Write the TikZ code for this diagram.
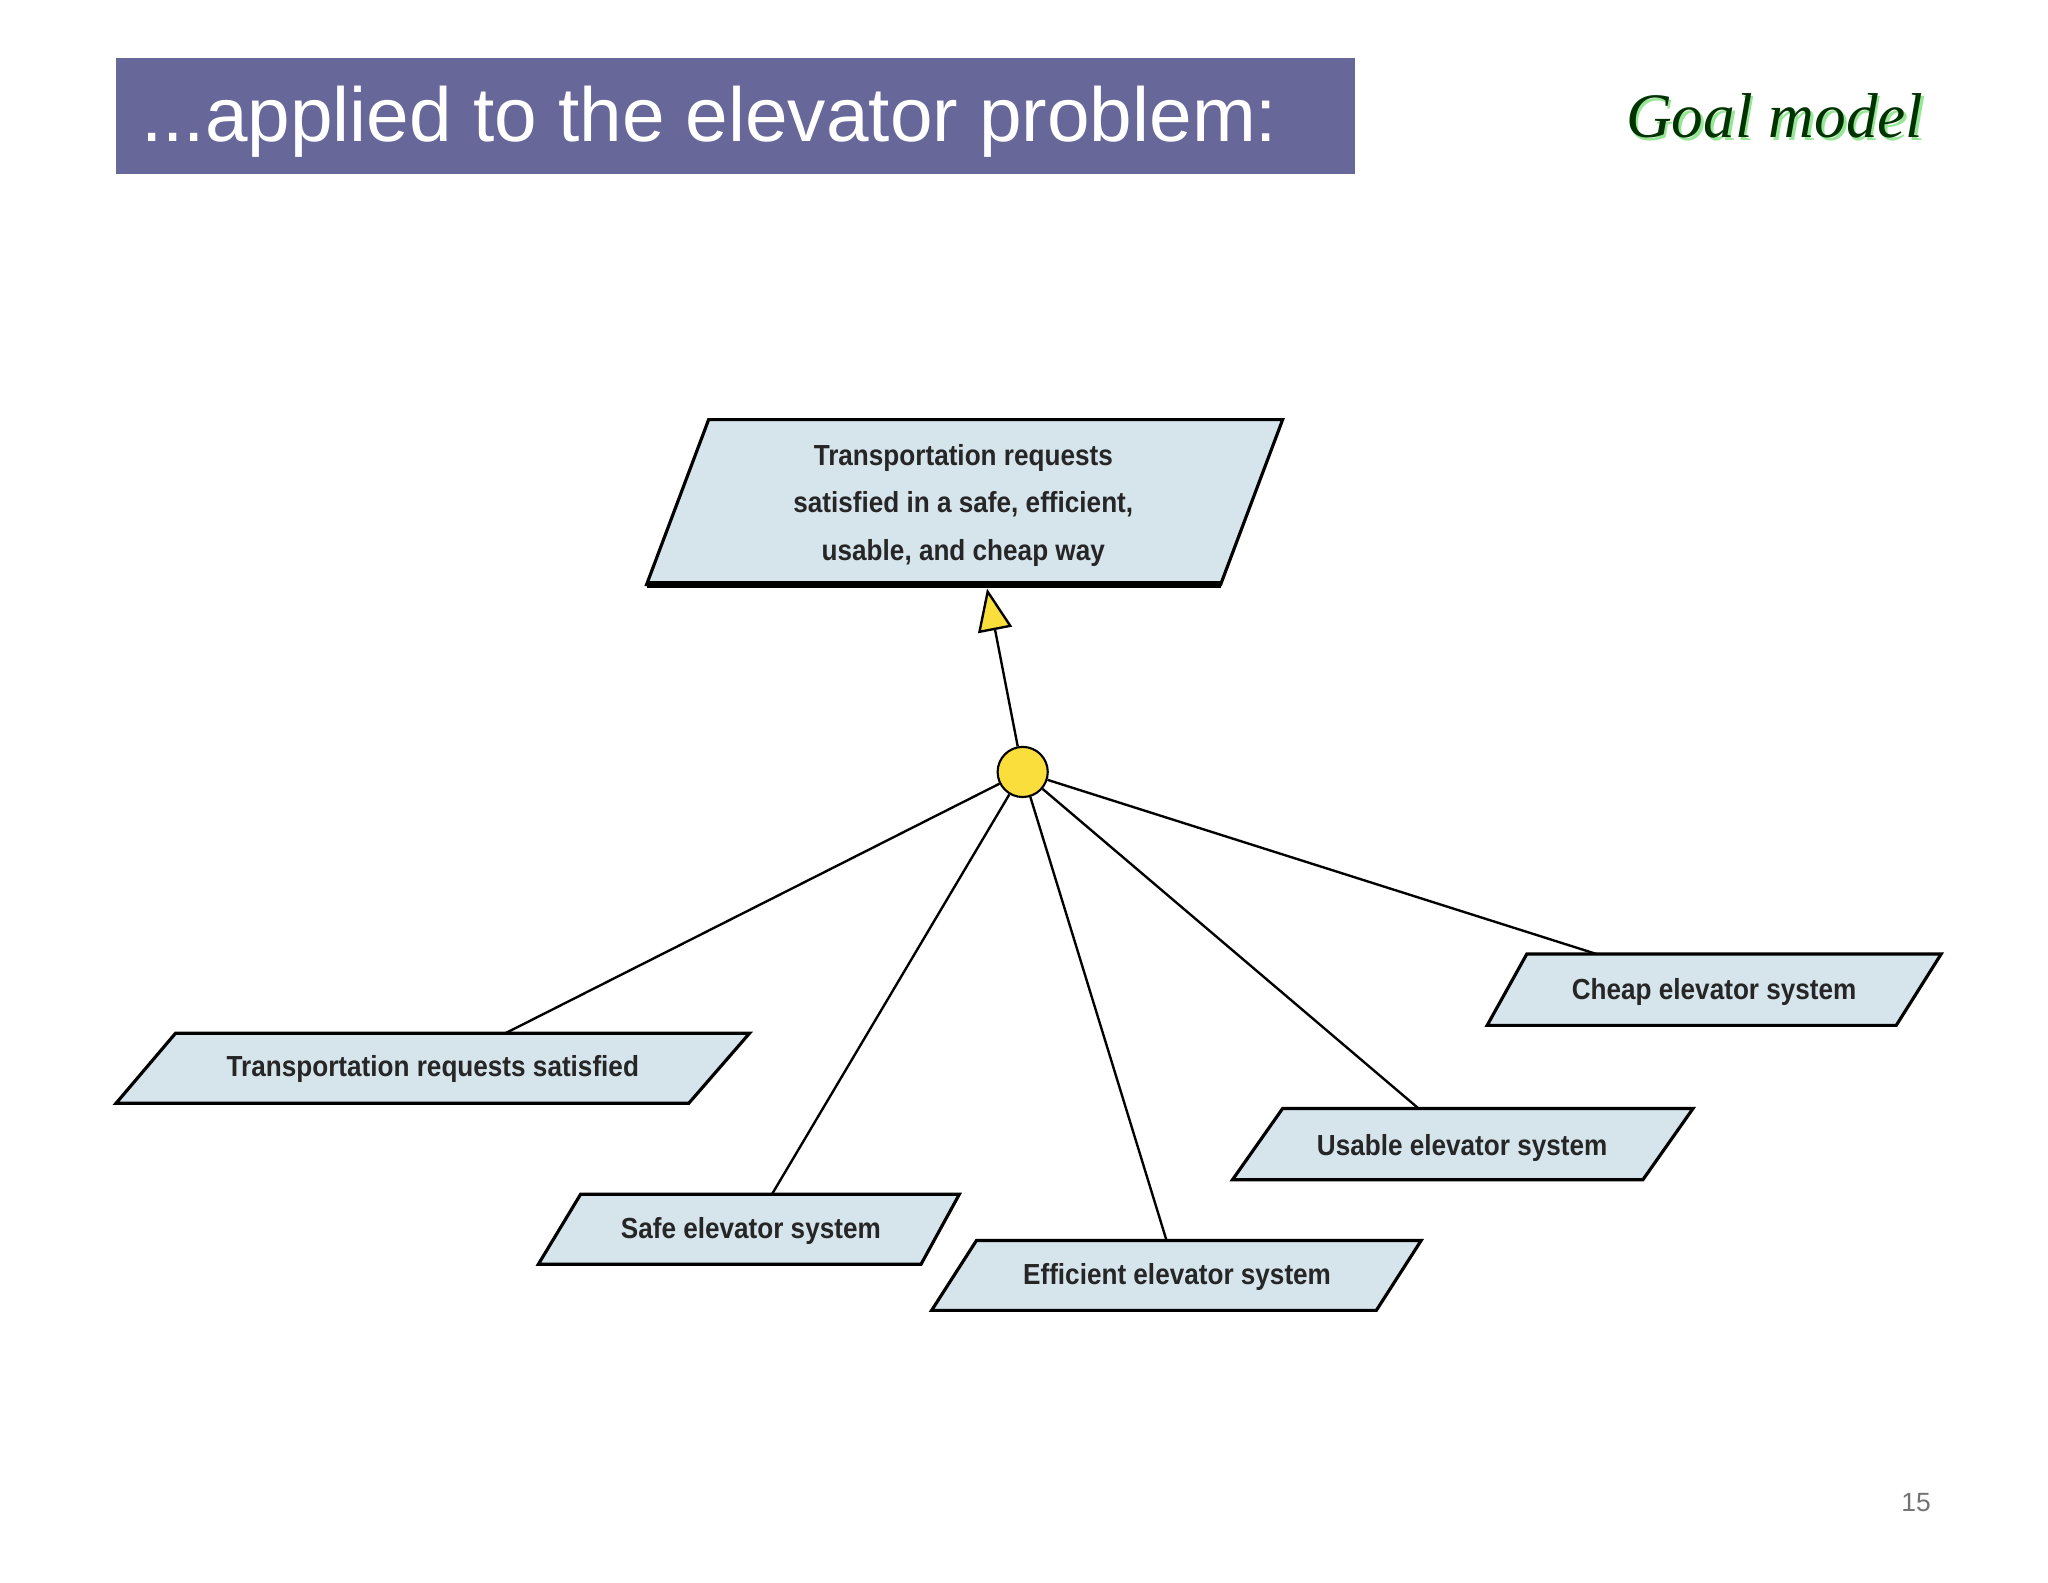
\documentclass[tikz,border=0pt]{standalone}
\usepackage{fontspec}
\setmainfont{Liberation Sans}
\newfontfamily\nodefont{Liberation Sans}[FakeStretch=0.9]
\newfontfamily\serifit{Liberation Serif}
\usetikzlibrary{arrows.meta}
\definecolor{titlebg}{RGB}{103,103,153}
\definecolor{goalfill}{RGB}{214,228,236}
\definecolor{andyellow}{RGB}{250,222,60}
\definecolor{shadowgreen}{RGB}{150,230,150}
\begin{document}
\begin{tikzpicture}[x=0.5pt,y=-0.5pt,
  goal/.style={fill=goalfill,draw=black,line width=1.2pt},
  gtext/.style={font=\nodefont\bfseries\fontsize{11}{18}\selectfont,align=center,text=black!85},
  link/.style={draw=black,line width=0.9pt}]
\useasboundingbox (0,0) rectangle (1552,1199);
\fill[white] (0,0) rectangle (1552,1199);
% title
\fill[titlebg] (88,44) rectangle (1027,132);
\node[anchor=west,text=white,font=\fontsize{29}{32}\selectfont] (title) at (100,92) {...applied to the elevator problem:};
\node[text=shadowgreen,font=\serifit\itshape\fontsize{24}{28}\selectfont] at (1347,90) {Goal model};
\node[text=black!80!green,font=\serifit\itshape\fontsize{24}{28}\selectfont] (gm) at (1345,88) {Goal model};
% goal shapes
\newcommand{\goalshape}[5]{% name, topleft x, top y, bottom left x, width, height via #5
}
\draw[goal] (537,318) -- (972,318) -- (925,443) -- (490,443) -- cycle;
\draw[line width=2.5pt] (490,443) -- (925,443);
\node[gtext] (root) at (730,383) {Transportation requests\\satisfied in a safe, efficient,\\usable, and cheap way};
\coordinate (rootb) at (748,446);

\draw[goal] (133,783) -- (568,783) -- (522,836) -- (88,836) -- cycle;
\node[gtext] (g1) at (328,810) {Transportation requests satisfied};
\coordinate (g1t) at (383,783);

\draw[goal] (440,905) -- (727,905) -- (698,958) -- (408,958) -- cycle;
\node[gtext] (g2) at (569,933) {Safe elevator system};
\coordinate (g2t) at (585,905);

\draw[goal] (740,940) -- (1077,940) -- (1043,993) -- (706,993) -- cycle;
\node[gtext] (g3) at (892,968) {Efficient elevator system};
\coordinate (g3t) at (884,940);

\draw[goal] (972,840) -- (1283,840) -- (1245,894) -- (934,894) -- cycle;
\node[gtext] (g4) at (1108,870) {Usable elevator system};
\coordinate (g4t) at (1075,840);

\draw[goal] (1157,723) -- (1471,723) -- (1437,777) -- (1127,777) -- cycle;
\node[gtext] (g5) at (1299,752) {Cheap elevator system};
\coordinate (g5t) at (1210,723);

% refinement
\node[circle,fill=andyellow,draw=black,line width=0.8pt,minimum size=19pt,inner sep=0pt] (and) at (775,585) {};
\draw[link,-{Triangle[open,fill=andyellow,length=16pt,width=13pt]}] (and) -- (rootb);
\draw[link] (and) -- (g1t);
\draw[link] (and) -- (g2t);
\draw[link] (and) -- (g3t);
\draw[link] (and) -- (g4t);
\draw[link] (and) -- (g5t);

\node[text=black!55,font=\fontsize{10}{12}\selectfont] (pg) at (1452,1139) {15};
\end{tikzpicture}
\end{document}
